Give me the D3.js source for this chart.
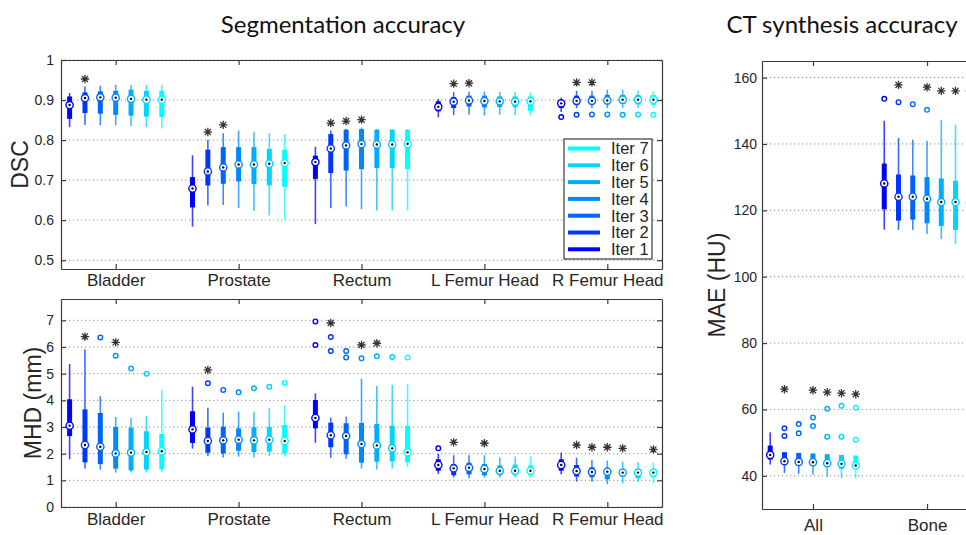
<!DOCTYPE html>
<html>
<head>
<meta charset="utf-8">
<script src="https://cdn.jsdelivr.net/npm/d3@7"></script>
<style>
  body { margin: 0; background: #fff; }
  svg { display: block; }
</style>
</head>
<body>
<svg width="966" height="535"></svg>
<script>
// ---- data ----
const iters = ['Iter 1', 'Iter 2', 'Iter 3', 'Iter 4', 'Iter 5', 'Iter 6', 'Iter 7'];
const iterColors = ['#0000ff', '#0036ff', '#0062ff', '#0088ff', '#00aeff', '#00d4ff', '#00ffff'];

const segCategories = ['Bladder', 'Prostate', 'Rectum', 'L Femur Head', 'R Femur Head'];
const ctCategories = ['All', 'Bone'];

// [whisker low, q1, median, q3, whisker high] per category, per iteration
const dscStats = [
  [[0.832, 0.853, 0.8875, 0.909, 0.9175], [0.8375, 0.8675, 0.905, 0.919, 0.934], [0.837, 0.866, 0.9067, 0.9217, 0.936],
   [0.837, 0.863, 0.906, 0.923, 0.938], [0.835, 0.861, 0.903, 0.926, 0.938], [0.8325, 0.859, 0.901, 0.923, 0.938],
   [0.829, 0.8575, 0.901, 0.923, 0.938]],
  [[0.584, 0.6317, 0.679, 0.7075, 0.762], [0.6367, 0.6867, 0.7217, 0.776, 0.801], [0.638, 0.691, 0.7317, 0.7825, 0.8175],
   [0.63, 0.6967, 0.739, 0.7825, 0.824], [0.6233, 0.69, 0.739, 0.7825, 0.821], [0.6117, 0.6867, 0.741, 0.778, 0.8175],
   [0.601, 0.6833, 0.7425, 0.776, 0.815]],
  [[0.59, 0.703, 0.745, 0.761, 0.7833], [0.63, 0.7175, 0.779, 0.815, 0.824], [0.634, 0.724, 0.7867, 0.826, 0.8275],
   [0.6275, 0.7275, 0.79, 0.8275, 0.831], [0.624, 0.73, 0.789, 0.826, 0.8275], [0.624, 0.73, 0.789, 0.826, 0.8275],
   [0.624, 0.7275, 0.791, 0.826, 0.8275]],
  [[0.857, 0.8717, 0.883, 0.897, 0.9025], [0.8625, 0.88, 0.896, 0.9075, 0.92], [0.863, 0.884, 0.899, 0.911, 0.921],
   [0.8617, 0.8817, 0.8975, 0.911, 0.921], [0.863, 0.8825, 0.8967, 0.909, 0.92], [0.8617, 0.8817, 0.896, 0.909, 0.92],
   [0.8617, 0.8733, 0.8967, 0.909, 0.919]],
  [[0.87, 0.88, 0.8917, 0.898, 0.906], [0.88, 0.8875, 0.898, 0.911, 0.923], [0.88, 0.89, 0.898, 0.911, 0.923],
   [0.88, 0.889, 0.899, 0.913, 0.926], [0.88, 0.89, 0.901, 0.913, 0.926], [0.88, 0.889, 0.901, 0.9125, 0.923],
   [0.88, 0.888, 0.901, 0.9125, 0.9217]]
];
// [category, iteration, value]
const dscOutliers = [[4, 0, 0.8575], [4, 1, 0.8633], [4, 2, 0.864], [4, 3, 0.864], [4, 4, 0.8633], [4, 5, 0.864], [4, 6, 0.8633]];
const dscStars = [[0, 1, 0.9525], [1, 1, 0.82], [1, 2, 0.838], [2, 1, 0.8425], [2, 2, 0.8475], [2, 3, 0.851],
  [3, 1, 0.941], [3, 2, 0.942], [4, 1, 0.944], [4, 2, 0.944]];
const dscTicks = [0.5, 0.6, 0.7, 0.8, 0.9, 1];

const mhdStats = [
  [[1.79, 2.66, 3.05, 4.04, 5.36], [1.44, 1.675, 2.325, 3.66, 5.91], [1.4, 1.61, 2.26, 3.525, 4.16],
   [1.29, 1.44, 2.01, 3.0, 3.375], [1.29, 1.375, 2.04, 2.975, 3.34], [1.29, 1.4, 2.06, 2.84, 3.41],
   [1.31, 1.41, 2.09, 2.74, 4.39]],
  [[2.19, 2.4, 2.91, 3.59, 4.51], [1.91, 2.04, 2.475, 2.975, 3.725], [1.85, 2.01, 2.5, 3.01, 3.54],
   [1.89, 2.11, 2.525, 2.95, 3.575], [1.86, 2.06, 2.5, 2.99, 3.575], [1.91, 2.075, 2.525, 3.0, 3.7],
   [1.89, 2.01, 2.475, 3.075, 3.825]],
  [[2.41, 2.95, 3.34, 4.01, 4.26], [1.85, 2.24, 2.69, 3.16, 3.35], [1.81, 1.975, 2.66, 3.14, 3.39],
   [1.44, 1.66, 2.36, 3.15, 4.81], [1.41, 1.7, 2.31, 3.11, 4.54], [1.44, 1.71, 2.2, 3.05, 4.575],
   [1.5, 1.675, 2.05, 3.05, 4.61]],
  [[1.24, 1.36, 1.575, 1.79, 1.99], [1.11, 1.19, 1.45, 1.61, 1.94], [1.075, 1.225, 1.475, 1.66, 1.94],
   [1.1, 1.19, 1.425, 1.61, 1.94], [1.1, 1.19, 1.36, 1.56, 1.86], [1.11, 1.19, 1.36, 1.59, 1.89],
   [1.1, 1.19, 1.36, 1.56, 1.89]],
  [[1.225, 1.36, 1.575, 1.79, 2.04], [0.95, 1.14, 1.35, 1.575, 1.85], [0.95, 1.11, 1.31, 1.49, 1.76],
   [0.86, 1.04, 1.325, 1.45, 1.74], [0.89, 1.14, 1.29, 1.41, 1.7], [0.925, 1.075, 1.29, 1.41, 1.675],
   [0.89, 1.11, 1.29, 1.41, 1.675]]
];
const mhdOutliers = [[0, 2, 6.36], [0, 3, 5.675], [0, 4, 5.19], [0, 5, 5.0],
  [1, 1, 4.64], [1, 2, 4.39], [1, 3, 4.3], [1, 4, 4.45], [1, 5, 4.51], [1, 6, 4.65],
  [2, 0, 6.96], [2, 0, 6.075], [2, 1, 6.375], [2, 1, 5.85], [2, 2, 5.85], [2, 2, 5.61], [2, 3, 5.575],
  [2, 4, 5.65], [2, 5, 5.625], [2, 6, 5.61], [3, 0, 2.2]];
const mhdStars = [[0, 1, 6.39], [0, 3, 6.175], [1, 1, 5.14], [2, 1, 6.9], [2, 3, 6.075], [2, 4, 6.14],
  [3, 1, 2.425], [3, 3, 2.39], [4, 1, 2.325], [4, 2, 2.24], [4, 3, 2.24], [4, 4, 2.2], [4, 6, 2.16]];
const mhdTicks = [0, 1, 2, 3, 4, 5, 6, 7];

const maeStats = [
  [[43.4, 44.9, 46.3, 49.1, 53.1], [40.9, 43.5, 44.4, 47.1, 47.1], [40.6, 43.4, 44.2, 46.9, 46.9],
   [40.3, 43.1, 44.1, 46.7, 46.7], [39.7, 42.7, 43.8, 46.5, 46.5], [39.3, 42.1, 43.6, 46.3, 46.3],
   [39.1, 42.1, 43.1, 46.1, 46.1]],
  [[114.2, 120.3, 128.1, 134.1, 147.0], [114.1, 116.9, 124.1, 130.8, 141.8], [114.1, 117.2, 124.1, 130.5, 141.3],
   [112.9, 116.1, 123.5, 130.0, 141.0], [111.3, 115.3, 122.5, 129.6, 147.2], [109.9, 114.1, 122.5, 128.9, 145.8],
   [109.5, 113.8, 122.2, 128.6, 145.5]]
];
const maeOutliers = [[0, 1, 54.3], [0, 1, 52.0], [0, 2, 55.6], [0, 2, 52.8], [0, 3, 57.6], [0, 3, 55.0],
  [0, 4, 60.2], [0, 4, 51.8], [0, 5, 61.1], [0, 5, 51.8], [0, 6, 60.5], [0, 6, 50.9],
  [1, 0, 153.6], [1, 1, 152.6], [1, 2, 152.0], [1, 3, 150.3]];
const maeStars = [[0, 1, 66.1], [0, 3, 65.8], [0, 4, 65.2], [0, 5, 64.9], [0, 6, 64.6],
  [1, 1, 157.8], [1, 3, 157.1], [1, 4, 156.0], [1, 5, 156.0], [1, 6, 156.0]];
const maeTicks = [40, 60, 80, 100, 120, 140, 160];

// ---- drawing ----
const svg = d3.select('svg');
const axisColor = '#3a3a3a';
const textColor = '#262626';
const sans = "'Liberation Sans', Arial, Helvetica, sans-serif";
const groupStep = 0.125;

function drawPanel(p) {
  const g = svg.append('g');
  const x = d3.scaleLinear().domain(p.xDomain).range([p.left, p.right]);
  const y = d3.scaleLinear().domain(p.yDomain).range([p.bottom, p.top]);
  const catPos = p.categories.map((c, i) => i + 1);
  const pos = (c, i) => x(c + 1 + (i - 3) * groupStep);

  // dotted grid
  g.append('g').selectAll('line').data(p.yTicks).join('line')
    .attr('x1', p.left).attr('x2', p.right)
    .attr('y1', d => y(d)).attr('y2', d => y(d))
    .attr('stroke', '#8c8c8c').attr('stroke-width', 1)
    .attr('stroke-dasharray', '1.2,2.8');

  const styleAxis = sel => {
    sel.select('.domain').attr('stroke', axisColor).attr('stroke-width', 1.2);
    sel.selectAll('.tick line').attr('stroke', axisColor).attr('stroke-width', 1.2);
    sel.selectAll('.tick text').attr('fill', textColor);
    sel.attr('font-family', sans);
  };

  g.append('g').attr('transform', `translate(${p.left},0)`)
    .call(d3.axisLeft(y).tickValues(p.yTicks).tickSize(-5).tickSizeOuter(0).tickPadding(p.yPad).tickFormat(d3.format('')))
    .call(styleAxis).attr('font-size', 14);
  g.append('g').attr('transform', `translate(${p.right},0)`)
    .call(d3.axisRight(y).tickValues(p.yTicks).tickSize(-5).tickSizeOuter(0).tickFormat(''))
    .call(styleAxis);
  g.append('g').attr('transform', `translate(0,${p.top})`)
    .call(d3.axisTop(x).tickValues(catPos).tickSize(-5).tickSizeOuter(0).tickFormat(''))
    .call(styleAxis);
  g.append('g').attr('transform', `translate(0,${p.bottom})`)
    .call(d3.axisBottom(x).tickValues(catPos).tickSize(-5).tickSizeOuter(0).tickPadding(p.xPad)
      .tickFormat((d, i) => p.categories[i]))
    .call(styleAxis).attr('font-size', 17);

  // y label
  g.append('text')
    .attr('transform', `translate(${p.yLabelX},${(p.top + p.bottom) / 2}) rotate(-90)`)
    .attr('text-anchor', 'middle')
    .attr('font-family', sans).attr('font-size', 23).attr('fill', textColor)
    .text(p.yLabel);

  const boxes = [];
  p.stats.forEach((cat, c) => cat.forEach((s, i) => boxes.push({ c, i, s })));

  const marks = g.append('g');
  marks.selectAll('line.whisker').data(boxes).join('line')
    .attr('class', 'whisker')
    .attr('x1', d => pos(d.c, d.i)).attr('x2', d => pos(d.c, d.i))
    .attr('y1', d => y(d.s[0])).attr('y2', d => y(d.s[4]))
    .attr('stroke', d => iterColors[d.i]).attr('stroke-width', 1.6).attr('stroke-opacity', 0.75);
  marks.selectAll('line.box').data(boxes).join('line')
    .attr('class', 'box')
    .attr('x1', d => pos(d.c, d.i)).attr('x2', d => pos(d.c, d.i))
    .attr('y1', d => y(d.s[1])).attr('y2', d => y(d.s[3]))
    .attr('stroke', d => iterColors[d.i]).attr('stroke-width', 5);
  marks.selectAll('circle.med').data(boxes).join('circle')
    .attr('class', 'med')
    .attr('cx', d => pos(d.c, d.i)).attr('cy', d => y(d.s[2])).attr('r', 3.6)
    .attr('fill', '#fff').attr('stroke', d => iterColors[d.i]).attr('stroke-width', 1.4);
  marks.selectAll('circle.dot').data(boxes).join('circle')
    .attr('class', 'dot')
    .attr('cx', d => pos(d.c, d.i)).attr('cy', d => y(d.s[2])).attr('r', 1.2)
    .attr('fill', '#000');

  marks.selectAll('circle.out').data(p.outliers).join('circle')
    .attr('class', 'out')
    .attr('cx', d => pos(d[0], d[1])).attr('cy', d => y(d[2])).attr('r', 2.3)
    .attr('fill', 'none').attr('stroke', d => iterColors[d[1]]).attr('stroke-width', 1.4);

  const s = 4.2, k = s * 0.72;
  const star = `M${-s},0H${s}M0,${-s}V${s}M${-k},${-k}L${k},${k}M${-k},${k}L${k},${-k}`;
  marks.selectAll('path.star').data(p.stars).join('path')
    .attr('class', 'star')
    .attr('transform', d => `translate(${pos(d[0], d[1])},${y(d[2])})`)
    .attr('d', star)
    .attr('stroke', '#333').attr('stroke-width', 1.3).attr('fill', 'none');
}

drawPanel({
  left: 61, right: 662, top: 60, bottom: 269,
  xDomain: [0.555, 5.445], yDomain: [0.478, 1],
  categories: segCategories, stats: dscStats, outliers: dscOutliers, stars: dscStars,
  yTicks: dscTicks, yPad: 7, xPad: 5, yLabel: 'DSC', yLabelX: 28
});
drawPanel({
  left: 61, right: 662, top: 299, bottom: 507,
  xDomain: [0.555, 5.445], yDomain: [0, 7.8],
  categories: segCategories, stats: mhdStats, outliers: mhdOutliers, stars: mhdStars,
  yTicks: mhdTicks, yPad: 7, xPad: 6, yLabel: 'MHD (mm)', yLabelX: 41
});
drawPanel({
  left: 762, right: 978, top: 61, bottom: 509,
  xDomain: [0.553, 2.447], yDomain: [30, 165],
  categories: ctCategories, stats: maeStats, outliers: maeOutliers, stars: maeStars,
  yTicks: maeTicks, yPad: 5, xPad: 10, yLabel: 'MAE (HU)', yLabelX: 725
});

// legend
const legend = svg.append('g').attr('transform', 'translate(564,139)');
legend.append('rect').attr('width', 88).attr('height', 120)
  .attr('fill', '#fff').attr('stroke', axisColor).attr('stroke-width', 1.2);
const legendRows = iters.map((name, i) => ({ name, color: iterColors[i] })).reverse();
const row = legend.selectAll('g.row').data(legendRows).join('g')
  .attr('class', 'row')
  .attr('transform', (d, i) => `translate(0,${9.5 + i * 16.8})`);
row.append('line').attr('x1', 4).attr('x2', 36)
  .attr('stroke', d => d.color).attr('stroke-width', 4);
row.append('text').attr('x', 47).attr('dy', '0.36em')
  .attr('font-family', sans).attr('font-size', 16.5).attr('fill', textColor)
  .text(d => d.name);

// titles
const titleFont = "Lato, 'Open Sans', sans-serif";
svg.append('text').attr('x', 343).attr('y', 33).attr('text-anchor', 'middle')
  .attr('font-family', titleFont).attr('font-size', 24).attr('fill', '#111')
  .text('Segmentation accuracy');
svg.append('text').attr('x', 842).attr('y', 33).attr('text-anchor', 'middle')
  .attr('font-family', titleFont).attr('font-size', 24).attr('fill', '#111')
  .text('CT synthesis accuracy');
</script>
</body>
</html>
